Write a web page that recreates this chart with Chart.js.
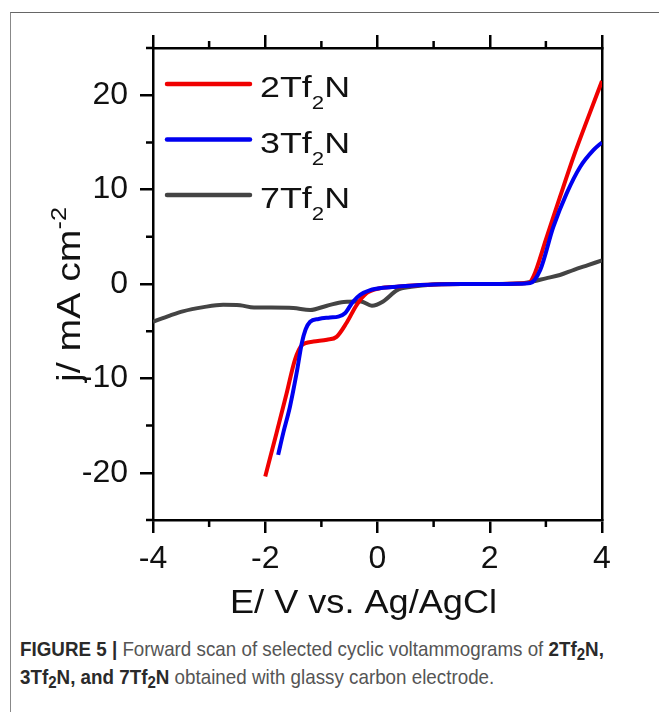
<!DOCTYPE html>
<html>
<head>
<meta charset="utf-8">
<title>Figure 5</title>
<script src="https://cdn.jsdelivr.net/npm/chart.js"></script>
<style>
body{margin:0;background:#fff;width:659px;height:712px;overflow:hidden;position:relative;}
#frame{position:absolute;left:10px;top:12px;width:700px;height:720px;border-left:1.5px solid #888;border-top:1.5px solid #666;}
canvas{position:absolute;left:0;top:0;}
#caption{position:absolute;left:20px;top:635px;font-family:"Liberation Sans Narrow","Arial Narrow","Liberation Sans",sans-serif;font-size:21px;line-height:28px;color:#555;white-space:nowrap;transform:scaleX(0.895);transform-origin:0 0;}
#caption b{color:#2a2a2a;}
#caption sub{font-size:0.8em;vertical-align:-0.25em;line-height:0;}
</style>
</head>
<body>
<div id="frame"></div>
<canvas id="chart" width="659" height="630"></canvas>
<div id="caption"><b>FIGURE 5 |</b> Forward scan of selected cyclic voltammograms of <b>2Tf<sub>2</sub>N,</b><br><b>3Tf<sub>2</sub>N, and 7Tf<sub>2</sub>N</b> obtained with glassy carbon electrode.</div>
<script>
// E / V vs. Ag/AgCl and j / mA cm-2
const e2 = [-2.0, -1.8, -1.62, -1.47, -1.35, -1.14, -0.9, -0.73, -0.55, -0.37, -0.19, 0.04, 0.34, 0.7, 1.0, 1.5, 2.0, 2.5, 2.7, 2.78, 3.0, 3.25, 3.5, 3.75, 4.0];
const j2 = [-20.4, -15.8, -11.6, -8.0, -6.5, -6.1, -5.9, -5.6, -4.1, -2.2, -0.95, -0.45, -0.28, -0.12, -0.05, 0, 0, 0.05, 0.15, 0.8, 4.7, 9.2, 13.6, 17.6, 21.5];
const e3 = [-1.77, -1.68, -1.56, -1.44, -1.35, -1.28, -1.2, -1.05, -0.85, -0.7, -0.58, -0.44, -0.31, -0.13, 0.1, 0.34, 0.7, 1.0, 1.5, 2.0, 2.5, 2.72, 2.9, 3.13, 3.37, 3.61, 3.85, 4.0];
const j3 = [-18.1, -15.8, -13.0, -9.4, -6.3, -4.8, -4.0, -3.7, -3.55, -3.45, -3.1, -1.9, -1.15, -0.65, -0.4, -0.28, -0.12, -0.05, 0, 0, 0.02, 0.1, 1.5, 6.0, 9.6, 12.4, 14.2, 15.0];
const e7 = [-4.0, -3.7, -3.47, -3.1, -2.75, -2.45, -2.2, -1.9, -1.5, -1.2, -0.9, -0.6, -0.3, -0.1, 0.1, 0.35, 0.6, 1.0, 1.5, 2.0, 2.5, 2.7, 3.0, 3.25, 3.5, 3.75, 4.0];
const j7 = [-4.0, -3.35, -2.9, -2.45, -2.2, -2.25, -2.5, -2.5, -2.55, -2.75, -2.3, -1.9, -1.85, -2.3, -1.85, -0.65, -0.3, -0.05, 0, 0, 0.05, 0.2, 0.6, 0.95, 1.5, 2.0, 2.5];

const names = ['2', '3', '7'];
const colors = ['#f00000', '#0000f0', '#444444'];
const xMajor = [-4, -2, 0, 2, 4];
const xMinor = [-3, -1, 1, 3];
const yMajor = [-20, -10, 0, 10, 20];
const yMinor = [-25, -15, -5, 5, 15, 25];

const FONT = '"Liberation Sans", Arial, sans-serif';

function pts(e, j) { return e.map((v, i) => ({x: v, y: j[i]})); }

// draw text pieces (text, size, dy) stretched to a given width
function richText(ctx, parts, x, y, width) {
  let w = 0;
  parts.forEach(p => { ctx.font = p[1] + 'px ' + FONT; w += ctx.measureText(p[0]).width; });
  ctx.save();
  ctx.translate(x, y);
  ctx.scale(width / w, 1);
  let cx = 0;
  parts.forEach(p => {
    ctx.font = p[1] + 'px ' + FONT;
    ctx.fillText(p[0], cx, p[2] || 0);
    cx += ctx.measureText(p[0]).width;
  });
  ctx.restore();
}

const decor = {
  id: 'decor',
  afterDraw(chart) {
    const ctx = chart.ctx, a = chart.chartArea;
    const x = chart.scales.x, y = chart.scales.y;
    ctx.save();
    // minor ticks
    ctx.strokeStyle = '#000';
    ctx.lineWidth = 2.5;
    ctx.beginPath();
    xMinor.forEach(v => {
      const p = x.getPixelForValue(v);
      ctx.moveTo(p, a.bottom); ctx.lineTo(p, a.bottom + 7);
      ctx.moveTo(p, a.top); ctx.lineTo(p, a.top - 7);
    });
    yMinor.forEach(v => {
      const p = y.getPixelForValue(v);
      ctx.moveTo(a.left, p); ctx.lineTo(a.left - 7, p);
    });
    ctx.stroke();

    // legend
    ctx.lineWidth = 4.5;
    ctx.lineCap = 'round';
    ctx.fillStyle = '#111';
    ctx.textBaseline = 'alphabetic';
    names.forEach((n, i) => {
      const ly = 84 + 55.5 * i;
      ctx.strokeStyle = colors[i];
      ctx.beginPath(); ctx.moveTo(167, ly); ctx.lineTo(250, ly); ctx.stroke();
      richText(ctx, [[n + 'Tf', 29], ['2', 18, 12], ['N', 29]], 260, ly + 13, 90);
    });

    // axis titles
    richText(ctx, [['E/ V vs. Ag/AgCl', 33]], 230, 613, 267);
    ctx.translate(80, 382);
    ctx.rotate(-Math.PI / 2);
    richText(ctx, [['j/ mA cm', 34], ['-2', 22, -14]], 0, 0, 175);
    ctx.restore();
  }
};

const tickGrid = {drawOnChartArea: false, drawTicks: true, tickLength: 13, tickWidth: 2.5, tickColor: '#000', color: '#000', lineWidth: 2.5};
const axisBorder = {display: true, color: '#000', width: 2.5};

new Chart(document.getElementById('chart'), {
  type: 'line',
  data: {
    datasets: names.map((n, i) => ({
      label: n + 'Tf2N',
      data: pts([e2, e3, e7][i], [j2, j3, j7][i]),
      borderColor: colors[i],
      borderWidth: 4,
      pointRadius: 0,
      cubicInterpolationMode: 'monotone',
      order: i === 1 ? 0 : (i === 0 ? 1 : 2)
    }))
  },
  options: {
    responsive: false,
    devicePixelRatio: 1,
    animation: false,
    layout: {padding: 0},
    plugins: {legend: {display: false}, tooltip: {enabled: false}},
    scales: {
      x: {
        type: 'linear', position: 'bottom', min: -4, max: 4,
        afterBuildTicks: s => { s.ticks = xMajor.map(v => ({value: v})); },
        afterFit: s => { s.height = 110; },
        grid: tickGrid, border: axisBorder,
        ticks: {color: '#111', padding: 7, font: {family: FONT, size: 32}}
      },
      xTop: {
        type: 'linear', position: 'top', min: -4, max: 4,
        afterBuildTicks: s => { s.ticks = xMajor.map(v => ({value: v})); },
        afterFit: s => { s.height = 48; },
        grid: tickGrid, border: axisBorder,
        ticks: {display: false}
      },
      y: {
        type: 'linear', position: 'left', min: -25, max: 25,
        afterBuildTicks: s => { s.ticks = yMajor.map(v => ({value: v})); },
        afterFit: s => { s.width = 153; },
        grid: tickGrid, border: axisBorder,
        ticks: {color: '#111', padding: 12, font: {family: FONT, size: 32}}
      },
      yRight: {
        type: 'linear', position: 'right', min: -25, max: 25,
        afterFit: s => { s.width = 57; },
        grid: {display: false}, border: axisBorder,
        ticks: {display: false}
      }
    }
  },
  plugins: [decor]
});
</script>
</body>
</html>
